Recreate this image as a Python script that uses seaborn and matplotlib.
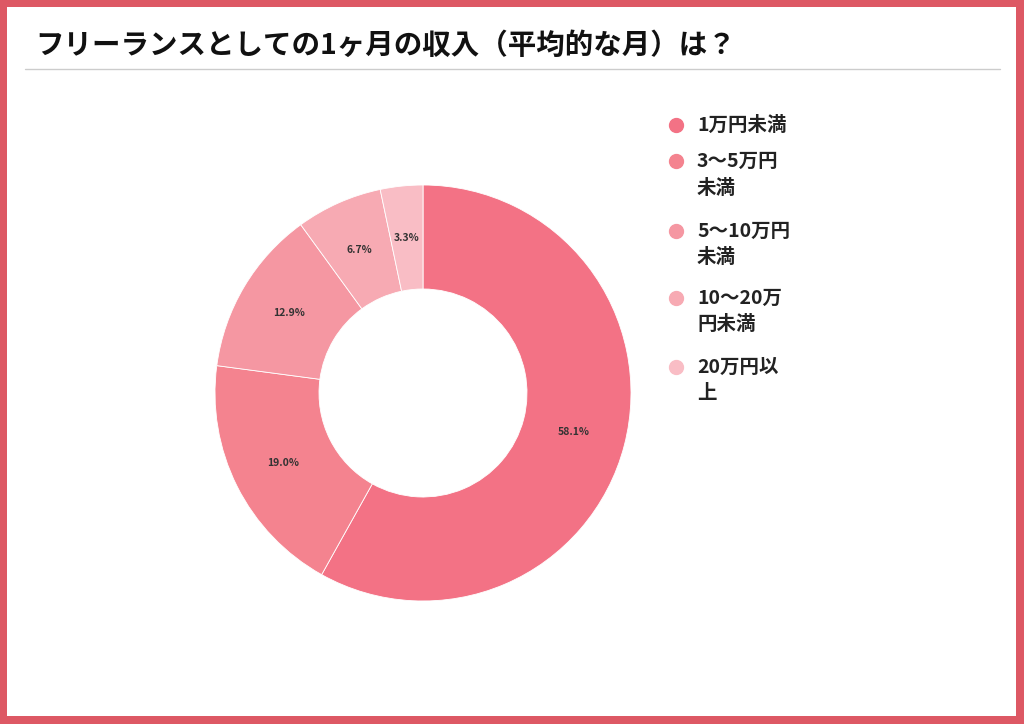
import matplotlib
matplotlib.use("Agg")
import matplotlib.pyplot as plt
from matplotlib.patches import Rectangle
from matplotlib.lines import Line2D
import seaborn as sns

TITLE = "フリーランスとしての1ヶ月の収入（平均的な月）は？"
categories = ["1万円未満", "3〜5万円\n未満", "5〜10万円\n未満", "10〜20万\n円未満", "20万円以\n上"]
shares = [58.1, 19.0, 12.9, 6.7, 3.3]
colors = ["#F37285", "#F4838F", "#F597A2", "#F7AAB3", "#F9BDC5"]
FRAME = "#DD5864"

sns.set_theme(style="white")
plt.rcParams["font.family"] = ["Noto Sans CJK JP", "DejaVu Sans"]

W, H = 1024, 724
fig = plt.figure(figsize=(W / 100, H / 100), dpi=100, facecolor=FRAME)
fig.add_artist(Rectangle((7 / W, 8 / H), (W - 15) / W, (H - 15) / H,
                         transform=fig.transFigure, facecolor="white",
                         edgecolor="none", zorder=0))

fig.text(35 / W, 1 - 46 / H, TITLE, fontsize=20.5, fontweight="bold",
         color="#111111", va="center", ha="left")
fig.add_artist(Line2D([25 / W, 1000 / W], [1 - 69 / H] * 2,
                      transform=fig.transFigure, color="#cccccc", lw=1))

cx, cy, r = 423, 393, 208
ax = fig.add_axes([(cx - r) / W, (H - cy - r) / H, 2 * r / W, 2 * r / H])
ax.set_facecolor("none")
wedges, texts, autotexts = ax.pie(
    shares, colors=colors, startangle=90, counterclock=False,
    autopct="%.1f%%", pctdistance=0.75, radius=1,
    wedgeprops=dict(width=0.5, edgecolor="white", linewidth=0.6),
    textprops=dict(fontsize=7.5, color="#333333", fontweight="bold"))
ax.set_xlim(-1, 1)
ax.set_ylim(-1, 1)
ax.axis("off")

# legend
rows = [125, 161, 231, 298, 367]
for lab, col, y in zip(categories, colors, rows):
    fig.add_artist(Line2D([676 / W], [1 - y / H], marker="o", markersize=10,
                          color=col, transform=fig.transFigure, lw=0))
    fig.text(697 / W, 1 - (y - 9) / H, lab, fontsize=14, color="#222222",
             fontweight="bold", va="top", ha="left", linespacing=1.5)

fig.savefig("out.png", dpi=100, facecolor=FRAME)
